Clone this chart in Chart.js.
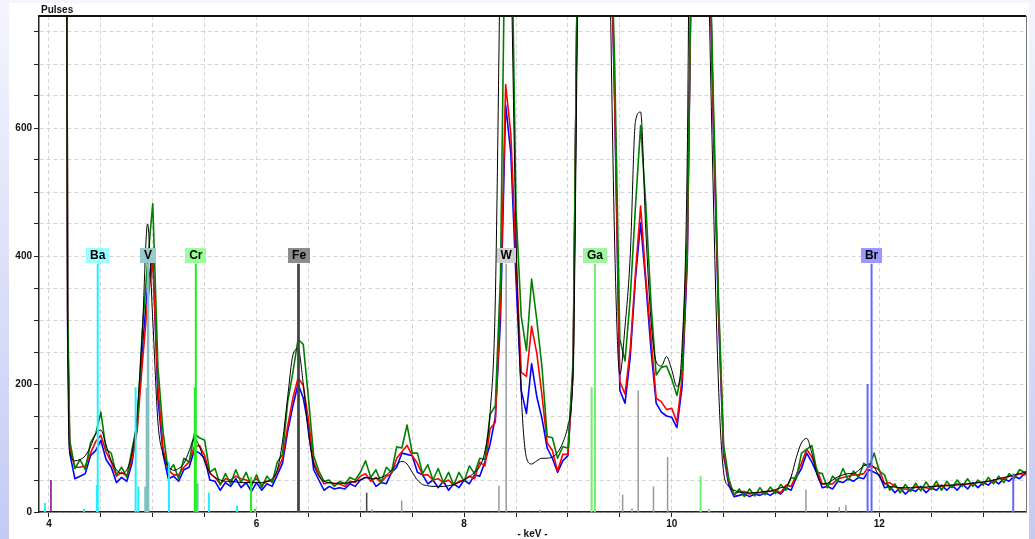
<!DOCTYPE html>
<html>
<head>
<meta charset="utf-8">
<script src="https://cdn.jsdelivr.net/npm/chart.js@4.4.1/dist/chart.umd.min.js"></script>
<style>
  html, body { margin: 0; padding: 0; }
  body { width: 1035px; height: 539px; overflow: hidden; position: relative;
         background: linear-gradient(#f4f5fd, #c3cbf4); }
  #panel { position: absolute; left: 9px; top: 3px; width: 1020px; height: 536px; background: #fff; }
  #wrap { position: absolute; left: 0; top: 0; width: 1035px; height: 539px; }
</style>
</head>
<body>
<div id="panel"></div>
<div id="wrap"><canvas id="spectrum" width="1035" height="539"></canvas></div>
<script>
// channel energies (keV)
const keV = [
  4.16, 4.18, 4.20, 4.25, 4.30, 4.35, 4.40, 4.45, 4.50, 4.55, 4.60,
  4.65, 4.70, 4.75, 4.80, 4.85, 4.90, 4.95, 5.00, 5.05, 5.10,
  5.15, 5.20, 5.25, 5.30, 5.35, 5.40, 5.45, 5.50, 5.55, 5.60,
  5.65, 5.70, 5.75, 5.80, 5.85, 5.90, 5.95, 6.00, 6.05, 6.10,
  6.15, 6.20, 6.25, 6.30, 6.35, 6.40, 6.45, 6.50, 6.55, 6.60,
  6.65, 6.70, 6.75, 6.80, 6.85, 6.90, 6.95, 7.00, 7.05, 7.10,
  7.15, 7.20, 7.25, 7.30, 7.35, 7.40, 7.45, 7.50, 7.55, 7.60,
  7.65, 7.70, 7.75, 7.80, 7.85, 7.90, 7.95, 8.00, 8.05, 8.10,
  8.15, 8.20, 8.25, 8.30, 8.35, 8.40, 8.45, 8.50, 8.55, 8.60,
  8.65, 8.70, 8.75, 8.80, 8.85, 8.90, 8.95, 9.00, 9.05, 9.10,
  9.15, 9.20, 9.25, 9.30, 9.35, 9.40, 9.45, 9.50, 9.55, 9.60,
  9.65, 9.70, 9.75, 9.80, 9.85, 9.90, 9.95, 10.00, 10.05, 10.10,
  10.15, 10.20, 10.25, 10.30, 10.35, 10.40, 10.45, 10.50, 10.55, 10.60,
  10.65, 10.70, 10.75, 10.80, 10.85, 10.90, 10.95, 11.00, 11.05, 11.10,
  11.15, 11.20, 11.25, 11.30, 11.35, 11.40, 11.45, 11.50, 11.55, 11.60,
  11.65, 11.70, 11.75, 11.80, 11.85, 11.90, 11.95, 12.00, 12.05, 12.10,
  12.15, 12.20, 12.25, 12.30, 12.35, 12.40, 12.45, 12.50, 12.55, 12.60,
  12.65, 12.70, 12.75, 12.80, 12.85, 12.90, 12.95, 13.00, 13.05, 13.10,
  13.15, 13.20, 13.25, 13.30, 13.35, 13.40, 13.45
];

// measured spectra (pulses)
const blueSpec = [
  1800, 280, 92, 52, 56, 60, 88, 96, 112, 82, 70,
  46, 54, 48, 76, 136, 256, 352, 402, 178, 90,
  52, 56, 48, 66, 70, 96, 92, 84, 50, 48,
  34, 46, 40, 52, 38, 46, 32, 46, 34, 44,
  40, 58, 76, 126, 166, 200, 178, 134, 66, 50,
  34, 40, 36, 38, 36, 44, 40, 50, 54, 54,
  40, 46, 44, 62, 70, 92, 90, 88, 62, 58,
  44, 50, 38, 48, 34, 44, 38, 50, 44, 58,
  56, 78, 106, 148, 300, 636, 560, 362, 190, 154,
  232, 180, 146, 100, 84, 62, 80, 88, 218, 1000,
  1500, 1500, 1500, 1500, 1500, 1000, 640, 190, 170, 242,
  364, 452, 358, 254, 170, 156, 150, 148, 132, 196,
  392, 1000, 1500, 1500, 1000, 610, 310, 88, 42, 24,
  26, 28, 24, 28, 26, 30, 26, 32, 28, 38,
  34, 54, 68, 92, 78, 60, 38, 40, 36, 48,
  46, 52, 48, 54, 52, 66, 62, 58, 38, 40,
  30, 38, 28, 36, 32, 40, 30, 38, 34, 42,
  34, 42, 34, 44, 36, 46, 38, 46, 42, 50,
  44, 52, 48, 56, 52, 60, 58
];
const redSpec = [
  1800, 300, 100, 70, 70, 72, 92, 110, 120, 94, 78,
  56, 62, 56, 82, 128, 232, 328, 394, 196, 98,
  66, 58, 58, 70, 78, 102, 104, 88, 60, 54,
  44, 52, 50, 56, 52, 50, 46, 52, 42, 48,
  48, 64, 84, 134, 178, 210, 198, 144, 78, 58,
  44, 46, 44, 44, 40, 48, 46, 56, 60, 48,
  54, 46, 56, 60, 84, 94, 104, 88, 76, 58,
  58, 50, 52, 46, 50, 42, 48, 50, 56, 52,
  78, 72, 130, 140, 330, 668, 590, 396, 218, 212,
  290, 248, 182, 108, 96, 64, 90, 90, 224, 1000,
  1500, 1500, 1500, 1500, 1500, 1000, 650, 204, 184, 254,
  372, 478, 366, 272, 178, 172, 160, 162, 140, 210,
  404, 1000, 1500, 1500, 1000, 620, 322, 94, 48, 28,
  32, 32, 28, 30, 30, 32, 32, 34, 30, 42,
  40, 58, 76, 98, 86, 66, 44, 44, 44, 52,
  54, 56, 58, 58, 60, 72, 70, 66, 44, 46,
  40, 36, 36, 34, 40, 38, 38, 36, 42, 40,
  42, 40, 44, 42, 44, 44, 46, 46, 48, 48,
  52, 52, 56, 56, 60, 58, 62
];
const greenSpec = [
  1800, 320, 112, 68, 82, 66, 108, 122, 156, 98, 92,
  58, 70, 54, 98, 138, 284, 390, 482, 226, 124,
  62, 74, 52, 84, 78, 122, 116, 112, 62, 68,
  42, 60, 44, 66, 46, 62, 40, 58, 38, 56,
  46, 78, 90, 172, 218, 270, 262, 178, 88, 64,
  48, 50, 40, 48, 44, 54, 50, 62, 80, 54,
  66, 46, 70, 62, 102, 100, 136, 92, 92, 60,
  74, 50, 68, 46, 62, 42, 62, 48, 72, 60,
  84, 82, 152, 166, 368, 1000, 1000, 470, 306, 252,
  364, 300, 226, 118, 116, 84, 102, 100, 236, 1000,
  1500, 1500, 1500, 1500, 1500, 1000, 700, 270, 236, 334,
  476, 604, 480, 326, 214, 226, 228, 208, 182, 222,
  430, 1000, 1500, 1500, 1000, 650, 336, 104, 52, 26,
  36, 24, 36, 25, 38, 27, 39, 29, 43, 34,
  54, 52, 92, 98, 104, 62, 60, 38, 56, 48,
  68, 50, 64, 54, 76, 70, 92, 64, 58, 34,
  44, 30, 43, 32, 45, 33, 47, 35, 48, 34,
  48, 38, 50, 40, 52, 40, 50, 42, 54, 44,
  56, 46, 60, 52, 66, 62, 66
];
// fitted spectrum
const fitSpec = [
  1800, 300, 95, 80, 82, 88, 102, 122, 128, 105, 80,
  66, 60, 66, 92, 155, 285, 450, 300, 140, 90,
  72, 65, 68, 76, 95, 115, 102, 78, 62, 54,
  50, 48, 48, 47, 46, 46, 46, 46, 46, 48,
  52, 66, 110, 180, 245, 255, 200, 122, 76, 56,
  48, 46, 45, 45, 45, 46, 48, 50, 54, 52,
  52, 54, 58, 65, 74, 79, 75, 62, 50, 43,
  41, 40, 40, 40, 41, 43, 46, 50, 55, 62,
  71, 95, 155, 330, 900, 1500, 900, 430, 185, 85,
  75, 80, 84, 84, 86, 93, 108, 135, 225, 900,
  1500, 1500, 1500, 1500, 1500, 900, 420, 215, 290, 400,
  610, 625, 440, 300, 235, 228, 243, 222, 196, 260,
  560, 1500, 1500, 1500, 900, 500, 200, 62, 40, 34,
  31, 30, 30, 30, 31, 32, 33, 35, 38, 40,
  55, 85, 108, 115, 92, 58, 44, 45, 50, 55,
  58, 60, 60, 65, 72, 75, 70, 55, 45, 40,
  39, 38, 38, 38, 38, 39, 39, 40, 40, 41,
  41, 42, 42, 43, 44, 45, 46, 47, 48, 50,
  52, 54, 56, 58, 60, 62, 63
];

const xTicks = [4, 4.5, 5, 5.5, 6, 6.5, 7, 7.5, 8, 8.5, 9, 9.5, 10, 10.5, 11, 11.5, 12, 12.5, 13];
const yTicks = [0, 50, 100, 150, 200, 250, 300, 350, 400, 450, 500, 550, 600, 650, 700, 750];

// element line markers: energy (keV) and height (pulses)
const baKeV = [3.961, 4.337, 4.462, 4.47, 4.835, 4.860, 5.156, 5.541, 5.811];
const baH   = [14, 5, 42, 388, 195, 40, 78, 30, 10];
const vKeV  = [4.93, 4.944, 4.955, 5.43];
const vH    = [40, 194, 388, 45];
const crKeV = [5.405, 5.415, 5.947, 5.985];
const crH   = [195, 388, 55, 5];
const feKeV = [6.398, 6.41, 7.061];
const feH   = [388, 388, 30];
const wKeV  = [7.11, 7.398, 8.335, 8.405, 8.73, 9.527, 9.617, 9.677, 9.824, 9.960, 11.293, 11.614, 11.678];
const wH    = [4, 18, 41, 388, 3, 27, 6, 190, 40, 86, 35, 8, 11];
const gaKeV = [9.228, 9.26, 10.278, 10.36];
const gaH   = [195, 388, 56, 5];
const brKeV = [11.887, 11.925, 13.29];
const brH   = [200, 388, 60];
const otherKeV = [4.019];
const otherH   = [50];

// element labels
const elements   = ['Ba', 'V', 'Cr', 'Fe', 'W', 'Ga', 'Br'];
const elementKeV = [4.47, 4.955, 5.415, 6.41, 8.405, 9.26, 11.925];
const labelColors = ['#99ffff', '#99c9c9', '#99ff99', '#8c8c8c', '#cfcfcf', '#a0f5a0', '#9999ff'];
const labelLevel = 400;

function series(vals) {
  return keV.map((k, i) => ({ x: k, y: vals[i] }));
}

function sticks(pos, h) {
  const out = [];
  pos.forEach((p, i) => {
    out.push({ x: p, y: 0 }, { x: p, y: h[i] }, { x: p, y: null });
  });
  return out;
}

function markerSet(pos, h, color, width) {
  return {
    data: sticks(pos, h), borderColor: color, borderWidth: width,
    pointRadius: 0, spanGaps: false, tension: 0
  };
}

function specSet(vals, color, width) {
  return {
    data: series(vals), borderColor: color, borderWidth: width,
    pointRadius: 0, tension: 0, borderJoinStyle: 'round'
  };
}

const FONT = '"Liberation Sans", Arial, sans-serif';

const decor = {
  id: 'decor',
  afterDatasetsDraw(chart) {
    const { ctx, chartArea: a, scales: { x, y } } = chart;
    ctx.save();
    // top and right frame
    ctx.strokeStyle = '#111';
    ctx.lineWidth = 2;
    ctx.beginPath();
    ctx.moveTo(a.left, a.top);
    ctx.lineTo(a.right, a.top);
    ctx.stroke();
    ctx.strokeStyle = '#777';
    ctx.lineWidth = 1;
    ctx.beginPath();
    ctx.moveTo(a.right + 0.5, a.top);
    ctx.lineTo(a.right + 0.5, a.bottom);
    ctx.stroke();

    // element label boxes
    ctx.font = 'bold 12px ' + FONT;
    ctx.textAlign = 'center';
    ctx.textBaseline = 'middle';
    elements.forEach((el, i) => {
      const px = x.getPixelForValue(elementKeV[i]);
      const py = y.getPixelForValue(labelLevel);
      const w = Math.round(ctx.measureText(el).width + 8);
      ctx.fillStyle = labelColors[i];
      ctx.fillRect(Math.round(px - w / 2), Math.round(py - 8), w, 15);
      ctx.fillStyle = '#000';
      ctx.fillText(el, px, py);
    });

    // axis titles
    ctx.font = 'bold 10px ' + FONT;
    ctx.fillStyle = '#111';
    ctx.textAlign = 'left';
    ctx.textBaseline = 'alphabetic';
    ctx.fillText('Pulses', a.left + 2, a.top - 3);
    ctx.textAlign = 'center';
    ctx.fillText('- keV -', (a.left + a.right) / 2, a.bottom + 25);
    ctx.restore();
  }
};

new Chart(document.getElementById('spectrum'), {
  type: 'line',
  data: {
    datasets: [
      markerSet(feKeV, feH, '#444444', 1.5),
      markerSet(crKeV, crH, '#22ee22', 2),
      markerSet(gaKeV, gaH, '#70f070', 2),
      markerSet(brKeV, brH, '#6666ff', 2),
      markerSet(vKeV, vH, '#80c0c0', 2.5),
      markerSet(baKeV, baH, '#22eeff', 2),
      markerSet(wKeV, wH, '#999999', 1.5),
      markerSet(otherKeV, otherH, '#800080', 1.5),
      Object.assign(specSet(fitSpec, '#000000', 1), { cubicInterpolationMode: 'monotone' }),
      specSet(greenSpec, '#008000', 1.6),
      specSet(redSpec, '#ff0000', 1.6),
      specSet(blueSpec, '#0000ff', 1.6)
    ]
  },
  options: {
    responsive: false,
    animation: false,
    devicePixelRatio: 1,
    layout: { padding: { top: 16, right: 9, left: 0, bottom: 0 } },
    plugins: { legend: { display: false }, tooltip: { enabled: false } },
    scales: {
      x: {
        type: 'linear',
        min: 3.904,
        max: 13.413,
        afterFit: s => { s.height = 27; },
        afterBuildTicks: s => { s.ticks = xTicks.map(v => ({ value: v })); },
        grid: { color: '#d6d6d6', tickColor: '#222', tickLength: 5, lineWidth: 1 },
        border: { display: true, color: '#222', width: 1.5, dash: [4, 3] },
        ticks: {
          autoSkip: false, maxRotation: 0, padding: 1, color: '#111',
          font: { family: FONT, size: 10, weight: 'bold' },
          callback: v => (v % 2 === 0 ? String(v) : '')
        }
      },
      y: {
        type: 'linear',
        min: 0,
        max: 775,
        afterFit: s => { s.width = 39; },
        afterBuildTicks: s => { s.ticks = yTicks.map(v => ({ value: v })); },
        grid: { color: '#d6d6d6', tickColor: '#222', tickLength: 5, lineWidth: 1 },
        border: { display: true, color: '#222', width: 1.5, dash: [4, 3] },
        ticks: {
          autoSkip: false, padding: 2, color: '#111',
          font: { family: FONT, size: 10, weight: 'bold' },
          callback: v => (v % 200 === 0 ? String(v) : '')
        }
      }
    }
  },
  plugins: [decor]
});
</script>
</body>
</html>
